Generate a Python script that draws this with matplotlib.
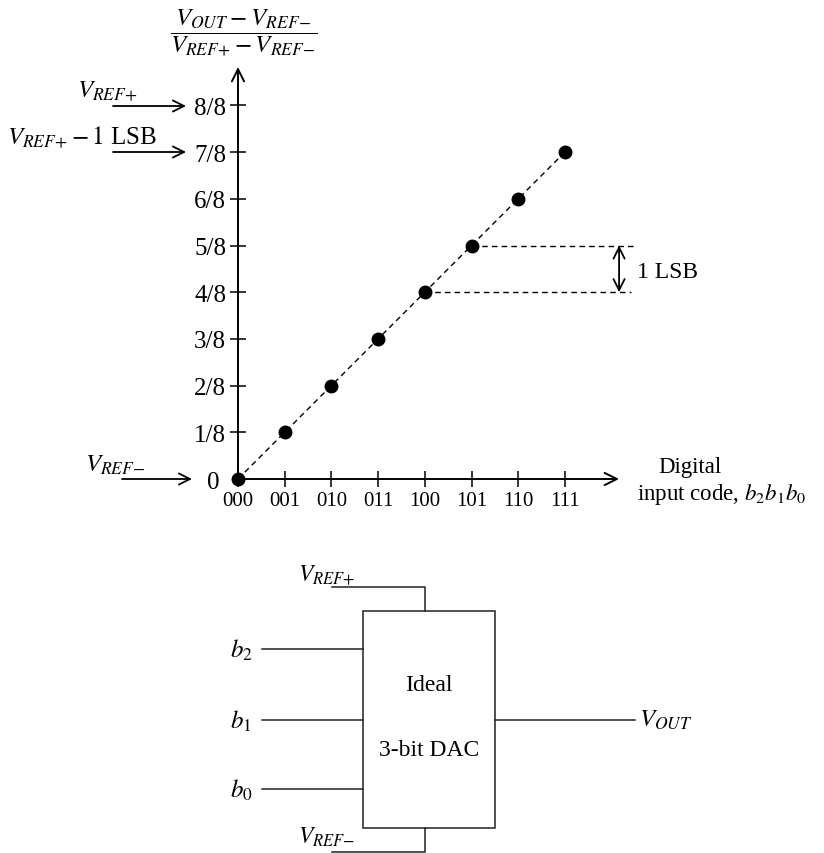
import matplotlib
matplotlib.use('Agg')
import matplotlib.pyplot as plt
from matplotlib.patches import Rectangle

plt.rcParams['font.family'] = ['Liberation Serif', 'DejaVu Serif']
plt.rcParams['mathtext.fontset'] = 'stix'

# ---- data ----
codes = ['000', '001', '010', '011', '100', '101', '110', '111']
levels = [0, 1, 2, 3, 4, 5, 6, 7]          # output in eighths of full scale
ytick_vals = [1, 2, 3, 4, 5, 6, 7, 8]
ytick_labels = ['1/8', '2/8', '3/8', '4/8', '5/8', '6/8', '7/8', '8/8']

W, H = 824, 854
fig = plt.figure(figsize=(W / 100, H / 100), dpi=100)

# overlay in pixel coordinates for the annotations / block diagram
ov = fig.add_axes([0, 0, 1, 1])
ov.set_xlim(0, W)
ov.set_ylim(H, 0)
ov.axis('off')

# ---- transfer characteristic axes ----
ox, oy, u = 238, 480, 46.7
xmax = (619 - ox) / u
ymax = (oy - 68) / u
ax = fig.add_axes([ox / W, 1 - oy / H, xmax * u / W, ymax * u / H])
ax.set_xlim(0, xmax)
ax.set_ylim(0, ymax)
ax.patch.set_visible(False)
for s in ax.spines.values():
    s.set_visible(False)

x = list(range(len(codes)))
ax.set_xticks(x)
ax.set_xticklabels(codes, fontsize=15)
ax.set_yticks(ytick_vals)
ax.set_yticklabels(ytick_labels, fontsize=18)
ax.tick_params(axis='both', direction='inout', length=11, width=1.1, color='black')
ax.tick_params(axis='x', pad=3)
ax.tick_params(axis='y', pad=3)

arrow_kw = dict(arrowstyle='->', lw=1.4, color='black', mutation_scale=22,
                shrinkA=0, shrinkB=0)
ax.annotate('', xy=(xmax, 0), xytext=(0, 0), arrowprops=arrow_kw, annotation_clip=False)
ax.annotate('', xy=(0, ymax), xytext=(0, 0), arrowprops=arrow_kw, annotation_clip=False)

ax.plot(x, levels, linestyle=(0, (4, 3)), color='black', lw=1.0, clip_on=False)
ax.plot(x, levels, 'o', ms=9, color='black', clip_on=False, zorder=5)

# 1 LSB annotation
ax.plot([x[5], 8.52], [levels[5], levels[5]], linestyle=(0, (4, 3)), color='black', lw=1.0, clip_on=False)
ax.plot([x[4], 8.42], [levels[4], levels[4]], linestyle=(0, (4, 3)), color='black', lw=1.0, clip_on=False)
ax.annotate('', xy=(8.16, levels[5]), xytext=(8.16, levels[4]),
            arrowprops=dict(arrowstyle='<->', lw=1.3, color='black', mutation_scale=20,
                            shrinkA=0, shrinkB=0), annotation_clip=False)
ax.text(8.55, 4.45, '1 LSB', fontsize=17, va='center', ha='left', clip_on=False)

# "0" label at origin
ov.text(213, 483, '0', fontsize=18, ha='center', va='center')

# y axis label
ov.text(244, 33, r'$\dfrac{V_{OUT}-V_{REF{-}}}{V_{REF{+}}-V_{REF{-}}}$', fontsize=18,
        ha='center', va='center')

# x axis label
ov.text(690, 468, 'Digital', fontsize=16.5, ha='center', va='center')
ov.text(637, 495, r'input code, $b_2b_1b_0$', fontsize=16.5, ha='left', va='center')

# left reference arrows
akw = dict(arrowstyle='->', lw=1.3, color='black', mutation_scale=20, shrinkA=0, shrinkB=0)
ov.annotate('', xy=(186, 107), xytext=(113, 107), arrowprops=akw)
ov.text(77, 91, r'$V_{REF{+}}$', fontsize=18, ha='left', va='center')
ov.annotate('', xy=(186, 153), xytext=(113, 153), arrowprops=akw)
ov.text(7, 137, r'$V_{REF{+}}-1$ LSB', fontsize=18, ha='left', va='center')
ov.annotate('', xy=(192, 480), xytext=(122, 480), arrowprops=akw)
ov.text(85, 465, r'$V_{REF{-}}$', fontsize=18, ha='left', va='center')

# ---- block diagram ----
lc = '#222222'
ov.add_patch(Rectangle((363, 612), 132, 217, fill=False, lw=1.1, edgecolor=lc))
ov.text(429, 686, 'Ideal', fontsize=17, ha='center', va='center')
ov.text(429, 751, '3-bit DAC', fontsize=17, ha='center', va='center')

ov.plot([332, 425, 425], [588, 588, 612], color=lc, lw=1.1)
ov.text(298, 575, r'$V_{REF{+}}$', fontsize=17, ha='left', va='center')
ov.plot([332, 425, 425], [853, 853, 829], color=lc, lw=1.1)
ov.text(298, 837, r'$V_{REF{-}}$', fontsize=17, ha='left', va='center')

for yy, lab in [(650, r'$b_2$'), (721, r'$b_1$'), (790, r'$b_0$')]:
    ov.plot([262, 363], [yy, yy], color=lc, lw=1.1)
    ov.text(230, yy, lab, fontsize=18, ha='left', va='center')

ov.plot([495, 635], [721, 721], color=lc, lw=1.1)
ov.text(639, 720, r'$V_{OUT}$', fontsize=18, ha='left', va='center')

fig.savefig('out.png', dpi=100)
